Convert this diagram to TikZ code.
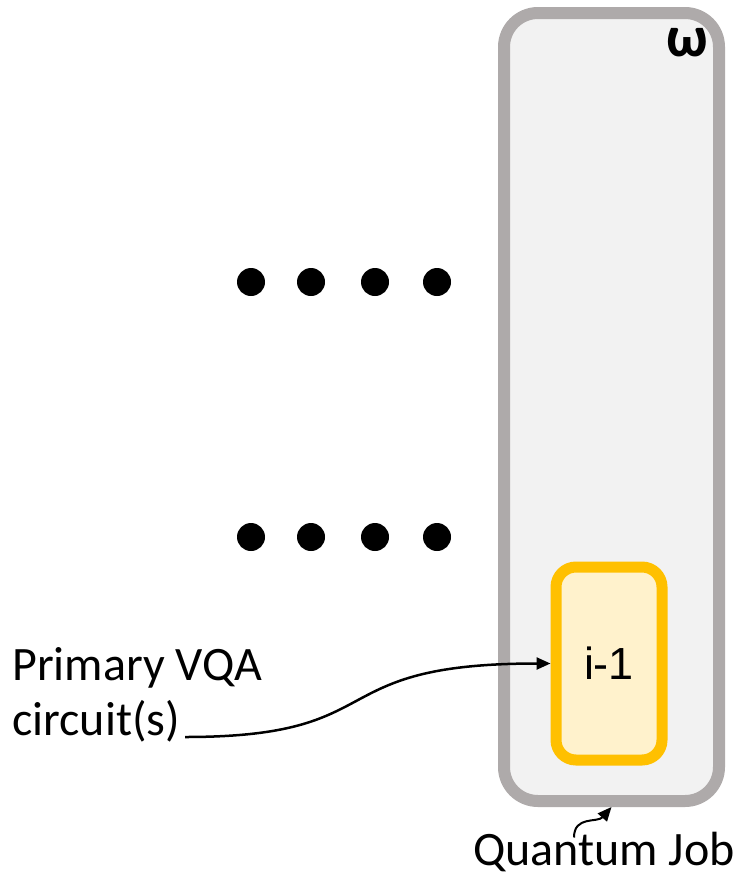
\documentclass[tikz,border=0pt]{standalone}
\usepackage{fontspec}
\setmainfont{Carlito}
\newfontfamily\arialfont{Liberation Sans}
\usetikzlibrary{arrows.meta,positioning}

\definecolor{jobgray}{HTML}{AEAAAA}
\definecolor{jobfill}{HTML}{F2F2F2}
\definecolor{circgold}{HTML}{FFC000}
\definecolor{circfill}{HTML}{FFF2CC}

\begin{document}
\begin{tikzpicture}[x=1pt,y=-1pt,>={Triangle[length=14pt,width=12pt]},
    job/.style={draw=jobgray,fill=jobfill,line width=12pt,rounded corners=34pt,
                minimum width=215pt,minimum height=788pt},
    circ/.style={draw=circgold,fill=circfill,line width=11pt,rounded corners=20pt,
                 minimum width=106pt,minimum height=193pt,font=\arialfont\fontsize{45}{54}\selectfont},
    lbl/.style={font=\fontsize{48}{58}\selectfont,inner sep=0pt},
    dot/.style={circle,fill=black,minimum size=28pt,inner sep=0pt},
    link/.style={->,line width=2.5pt}]

        \useasboundingbox (0,0) rectangle (738,876);

        % quantum job and the circuit inside it
        \node[job]  (J) at (611.5,407)  {};
        \node[font=\fontsize{58}{58}\selectfont\bfseries] (W) at (687,43) {ω};
        \node[circ] (C) at (609,663.5)  {i-1};

        % two rows of dots
        \foreach \y in {282,537}
            \foreach \x in {251,311,375,437}
                \node[dot] at (\x,\y) {};

        \node[lbl,anchor=base west] (P) at (12,680)  {Primary VQA};
        \node[lbl,anchor=base west] (Q) at (12,735)  {circuit(s)};
        \node[lbl,anchor=base]      (N) at (604,865) {Quantum Job};

        \draw[link] ([xshift=5pt,yshift=-2pt]Q.base east)
              .. controls +(210,0) and +(-233,0) .. (C.west);
        \draw[link,line width=2pt] ([xshift=-30pt,yshift=-6pt]N.north)
              .. controls +(0,-22) and +(-14,16) .. (J.south);

\end{tikzpicture}
\end{document}
